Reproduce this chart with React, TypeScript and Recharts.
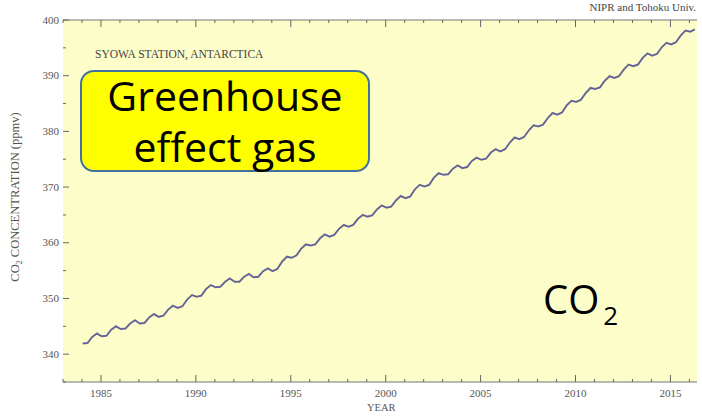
import { LineChart, Line, XAxis, YAxis, CartesianGrid } from 'recharts';

// quarterly CO2 (ppmv) at Syowa, Jan / Apr / Jul / Oct
const startYear = 1984;
const co2Quarterly = [
  341.9, 342.0, 343.1, 343.7, // 1984
  343.2, 343.3, 344.4, 345.0, // 1985
  344.5, 344.6, 345.5, 346.1, // 1986
  345.5, 345.6, 346.6, 347.2, // 1987
  346.7, 346.9, 348.0, 348.7, // 1988
  348.3, 348.6, 349.8, 350.6, // 1989
  350.3, 350.5, 351.7, 352.4, // 1990
  352.0, 352.1, 353.0, 353.6, // 1991
  353.0, 353.0, 353.9, 354.4, // 1992
  353.8, 353.9, 354.9, 355.4, // 1993
  354.9, 355.3, 356.6, 357.5, // 1994
  357.3, 357.7, 358.9, 359.7, // 1995
  359.5, 359.7, 360.8, 361.5, // 1996
  361.1, 361.4, 362.5, 363.2, // 1997
  362.9, 363.2, 364.3, 365.0, // 1998
  364.7, 364.9, 366.0, 366.7, // 1999
  366.3, 366.5, 367.6, 368.4, // 2000
  368.0, 368.3, 369.6, 370.4, // 2001
  370.1, 370.4, 371.7, 372.5, // 2002
  372.2, 372.3, 373.3, 373.9, // 2003
  373.4, 373.6, 374.7, 375.3, // 2004
  374.9, 375.1, 376.2, 376.8, // 2005
  376.4, 376.8, 378.0, 378.9, // 2006
  378.6, 379.0, 380.2, 381.1, // 2007
  380.9, 381.2, 382.4, 383.3, // 2008
  383.0, 383.4, 384.7, 385.5, // 2009
  385.3, 385.7, 386.9, 387.8, // 2010
  387.6, 387.9, 389.1, 389.9, // 2011
  389.6, 389.9, 391.1, 392.0, // 2012
  391.7, 392.0, 393.2, 394.0, // 2013
  393.6, 393.9, 395.1, 395.9, // 2014
  395.6, 396.0, 397.2, 398.1, // 2015
  397.9, 398.3, // 2016
];

const yearTicks = [
  1983, 1984, 1985, 1986, 1987, 1988, 1989, 1990, 1991, 1992, 1993, 1994,
  1995, 1996, 1997, 1998, 1999, 2000, 2001, 2002, 2003, 2004, 2005, 2006,
  2007, 2008, 2009, 2010, 2011, 2012, 2013, 2014, 2015, 2016,
];
const ppmTicks = [335, 340, 345, 350, 355, 360, 365, 370, 375, 380, 385, 390, 395, 400];

const data = co2Quarterly.map((v, i) => ({ year: startYear + i * 0.25 + 0.04, co2: v }));

const serif = '"Liberation Serif", "DejaVu Serif", serif';
const tickColor = '#666';

function BottomTick({ x, y, payload }: any) {
  const major = payload.value % 5 === 0;
  return (
    <g>
      <line x1={x} x2={x} y1={y} y2={y - (major ? 7 : 3)} stroke={tickColor} />
      {major && (
        <text x={x} y={y + 15} textAnchor="middle" fontSize={11} fontFamily={serif} fill="#555">
          {payload.value}
        </text>
      )}
    </g>
  );
}

function TopTick({ x, y, payload }: any) {
  const major = payload.value % 5 === 0;
  return <line x1={x} x2={x} y1={y} y2={y + (major ? 7 : 3)} stroke={tickColor} />;
}

function LeftTick({ x, y, payload }: any) {
  const major = payload.value % 10 === 0;
  return (
    <g>
      <line x1={x} x2={x + (major ? 6 : 3)} y1={y} y2={y} stroke={tickColor} />
      {major && (
        <text x={x - 4} y={y + 3.5} textAnchor="end" fontSize={11} fontFamily={serif} fill="#555">
          {payload.value}
        </text>
      )}
    </g>
  );
}

function RightTick({ x, y, payload }: any) {
  const major = payload.value % 10 === 0;
  return <line x1={x} x2={x - (major ? 6 : 3)} y1={y} y2={y} stroke={tickColor} />;
}

export default function App() {
  return (
    <div style={{ position: 'absolute', left: 0, top: 0, width: 702, height: 418, background: '#fff' }}>
      <LineChart width={702} height={418} data={data} margin={{ top: 0, right: 0, bottom: 0, left: 0 }}>
        <CartesianGrid fill="#fdfdc9" stroke="none" />
        <XAxis
          dataKey="year"
          type="number"
          domain={[1983, 2016.4]}
          ticks={yearTicks}
          interval={0}
          height={36}
          tickSize={0}
          tickMargin={0}
          axisLine={{ stroke: '#a0a0a0', strokeWidth: 1.5 }}
          tick={<BottomTick />}
        />
        <XAxis
          xAxisId="top"
          orientation="top"
          dataKey="year"
          type="number"
          domain={[1983, 2016.4]}
          ticks={yearTicks}
          interval={0}
          height={20}
          tickSize={0}
          tickMargin={0}
          axisLine={{ stroke: '#777' }}
          tick={<TopTick />}
        />
        <YAxis
          type="number"
          domain={[335, 400]}
          ticks={ppmTicks}
          interval={0}
          width={63}
          tickSize={0}
          tickMargin={0}
          axisLine={false}
          tick={<LeftTick />}
        />
        <YAxis
          yAxisId="right"
          orientation="right"
          type="number"
          domain={[335, 400]}
          ticks={ppmTicks}
          interval={0}
          width={5}
          tickSize={0}
          tickMargin={0}
          axisLine={false}
          tick={<RightTick />}
        />
        <Line
          dataKey="co2"
          type="linear"
          stroke="#7a7a8c"
          strokeWidth={2}
          dot={false}
          isAnimationActive={false}
        />
        <Line
          dataKey="co2"
          type="linear"
          stroke="#3a3ac0"
          strokeOpacity={0.55}
          strokeWidth={1}
          dot={false}
          isAnimationActive={false}
        />
      </LineChart>

      <div style={{ position: 'absolute', right: 6, top: 1, fontFamily: serif, fontSize: 11, color: '#444' }}>
        NIPR and Tohoku Univ.
      </div>
      <div style={{ position: 'absolute', left: 95, top: 48, fontFamily: serif, fontSize: 11.5, color: '#444' }}>
        SYOWA STATION, ANTARCTICA
      </div>
      <div
        style={{
          position: 'absolute',
          left: 16,
          top: 197,
          transform: 'translate(-50%, -50%) rotate(-90deg)',
          whiteSpace: 'nowrap',
          fontFamily: serif,
          fontSize: 12.5,
          color: '#555',
        }}
      >
        CO<sub style={{ fontSize: 8 }}>2</sub> CONCENTRATION (ppmv)
      </div>
      <div style={{ position: 'absolute', left: 367, top: 402, fontFamily: serif, fontSize: 10.5, color: '#555' }}>
        YEAR
      </div>

      <div
        style={{
          position: 'absolute',
          left: 80,
          top: 70,
          width: 290,
          height: 102,
          boxSizing: 'border-box',
          background: '#ffff00',
          border: '2px solid #41719c',
          borderRadius: 14,
          display: 'flex',
          flexDirection: 'column',
          alignItems: 'center',
          justifyContent: 'center',
          fontFamily: '"Open Sans", "Noto Sans", sans-serif',
          fontSize: 41,
          lineHeight: '51px',
          color: '#000',
        }}
      >
        <span>Greenhouse</span>
        <span>effect gas</span>
      </div>

      <div
        style={{
          position: 'absolute',
          left: 543,
          top: 271,
          fontFamily: '"Open Sans", "Noto Sans", sans-serif',
          fontSize: 40,
          color: '#000',
          whiteSpace: 'nowrap',
        }}
      >
        CO<span style={{ fontSize: 26, position: 'relative', top: 11, marginLeft: 4 }}>2</span>
      </div>
    </div>
  );
}
